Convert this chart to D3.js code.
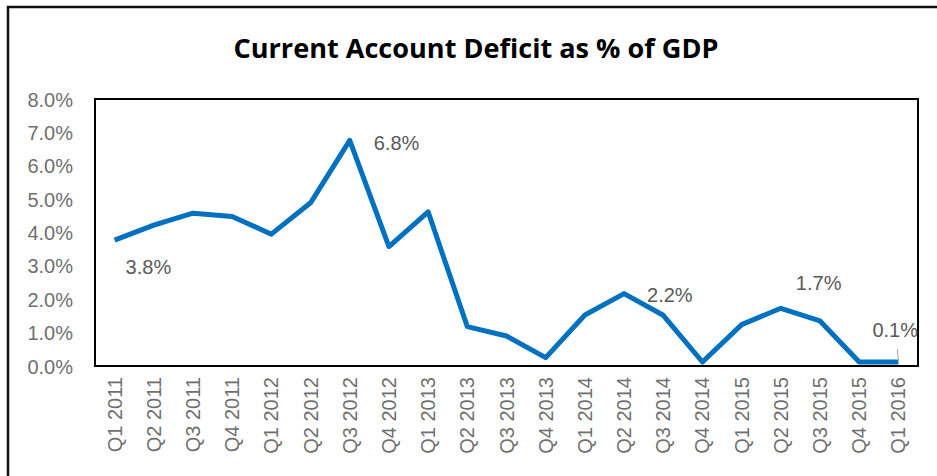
<!DOCTYPE html>
<html lang="en">
<head>
<meta charset="utf-8">
<title>Current Account Deficit as % of GDP</title>
<script src="https://d3js.org/d3.v7.min.js"></script>
<style>
  body { margin: 0; background: #fff; }
  svg { display: block; }
  .tick text { font-family: "Liberation Sans", Arial, sans-serif; fill: #6f6f6f; }
</style>
</head>
<body>
<script>
// data
var quarters = ["Q1 2011", "Q2 2011", "Q3 2011", "Q4 2011", "Q1 2012", "Q2 2012", "Q3 2012",
                "Q4 2012", "Q1 2013", "Q2 2013", "Q3 2013", "Q4 2013", "Q1 2014", "Q2 2014",
                "Q3 2014", "Q4 2014", "Q1 2015", "Q2 2015", "Q3 2015", "Q4 2015", "Q1 2016"];
var deficit = [3.77, 4.22, 4.58, 4.48, 3.95, 4.89, 6.76, 3.58, 4.62, 1.18, 0.9, 0.25, 1.53,
               2.17, 1.52, 0.12, 1.24, 1.73, 1.35, 0.12, 0.12];
var yTicks = [0, 1, 2, 3, 4, 5, 6, 7, 8];
// which points carry a label
var labelled = ["Q1 2011", "Q3 2012", "Q2 2014", "Q2 2015", "Q1 2016"];

var width = 937, height = 476;
var plot = { left: 95, right: 918, top: 99, bottom: 366 };

var svg = d3.select("body").append("svg")
  .attr("width", width)
  .attr("height", height);

svg.append("rect").attr("width", width).attr("height", height).attr("fill", "#fff");

// outer chart frame (right and bottom fall outside the picture)
svg.append("path")
  .attr("d", "M8," + (height + 5) + "V7H" + (width + 5))
  .attr("fill", "none")
  .attr("stroke", "#111")
  .attr("stroke-width", 2.5);

svg.append("text")
  .attr("x", 476)
  .attr("y", 58)
  .attr("text-anchor", "middle")
  .attr("font-family", "'Open Sans', sans-serif")
  .attr("font-weight", "bold")
  .attr("font-size", 27)
  .attr("textLength", 485)
  .attr("lengthAdjust", "spacingAndGlyphs")
  .attr("fill", "#000")
  .text("Current Account Deficit as % of GDP");

var x = d3.scaleBand().domain(quarters).range([plot.left, plot.right]);
var y = d3.scaleLinear().domain([0, 8]).range([plot.bottom, plot.top]);

var yAxis = svg.append("g")
  .attr("transform", "translate(" + plot.left + ",0)")
  .call(d3.axisLeft(y).tickValues(yTicks).tickSize(0).tickPadding(22)
    .tickFormat(function(d) { return d.toFixed(1) + "%"; }));
yAxis.select(".domain").remove();
yAxis.selectAll("text").attr("font-size", 20).attr("dy", "0.35em");

var xAxis = svg.append("g")
  .attr("transform", "translate(0," + plot.bottom + ")")
  .call(d3.axisBottom(x).tickSize(0));
xAxis.select(".domain").remove();
xAxis.selectAll("text")
  .attr("font-size", 20)
  .attr("transform", "rotate(-90)")
  .attr("text-anchor", "end")
  .attr("x", -11)
  .attr("y", 0)
  .attr("dy", "0.35em");

// plot border
svg.append("rect")
  .attr("x", plot.left)
  .attr("y", plot.top)
  .attr("width", plot.right - plot.left)
  .attr("height", plot.bottom - plot.top)
  .attr("fill", "none")
  .attr("stroke", "#000")
  .attr("stroke-width", 2);

var line = d3.line()
  .x(function(d, i) { return x(quarters[i]) + x.bandwidth() / 2; })
  .y(function(d) { return y(d); });

svg.append("path")
  .datum(deficit)
  .attr("d", line)
  .attr("fill", "none")
  .attr("stroke", "#0070C0")
  .attr("stroke-width", 5)
  .attr("stroke-linejoin", "round");

// label offsets as placed in the original
var offsets = {
  "Q1 2011": [11, 27],
  "Q3 2012": [24, 3],
  "Q2 2014": [23, 1],
  "Q2 2015": [15, -25],
  "Q1 2016": [-26, -32]
};

var labels = svg.append("g");
labelled.forEach(function(q) {
  var i = quarters.indexOf(q);
  var cx = x(q) + x.bandwidth() / 2, cy = y(deficit[i]);
  var off = offsets[q];
  labels.append("text")
    .attr("x", cx + off[0])
    .attr("y", cy + off[1])
    .attr("dy", "0.35em")
    .attr("font-family", "'Liberation Sans', Arial, sans-serif")
    .attr("font-size", 20)
    .attr("fill", "#595959")
    .text((Math.round(deficit[i] * 10) / 10).toFixed(1) + "%");
});

// leader line for the last label
var lastX = x("Q1 2016") + x.bandwidth() / 2;
svg.append("line")
  .attr("x1", lastX - 1).attr("y1", y(deficit[20]) - 13)
  .attr("x2", lastX).attr("y2", y(deficit[20]) - 1)
  .attr("stroke", "#a6a6a6")
  .attr("stroke-width", 1);
</script>
</body>
</html>
